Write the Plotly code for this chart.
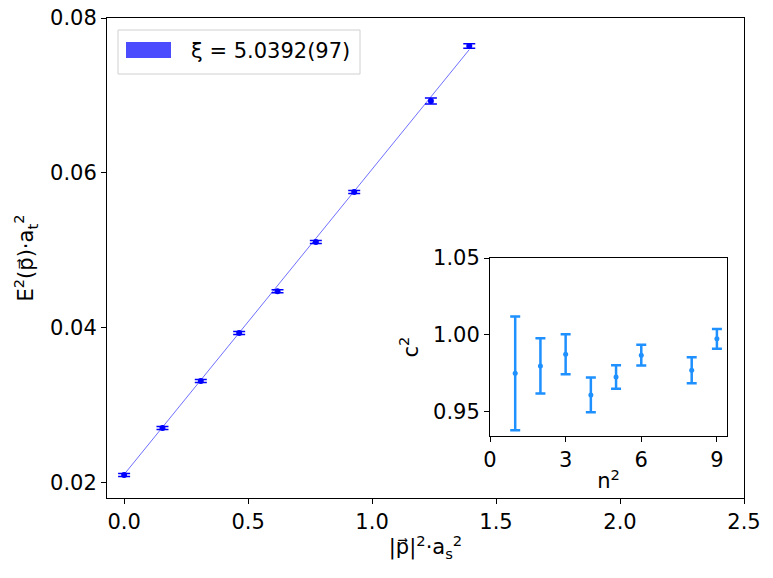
import plotly.graph_objects as go

# ---- main data ----
p2 = [0.0, 0.1547, 0.3093, 0.4640, 0.6187, 0.7733, 0.9280, 1.2373, 1.3920]
E2 = [0.02103, 0.02710, 0.03316, 0.03935, 0.04474, 0.05110, 0.05755, 0.06929, 0.07639]
E2_err = [0.0002, 0.0002, 0.0002, 0.0002, 0.0002, 0.0002, 0.0002, 0.0004, 0.0003]

# fit parameters
m2_fit = 0.02110
xi_fit = 5.0392
fit_label = "ξ = 5.0392(97)"

# ---- inset data ----
n2 = [1, 2, 3, 4, 5, 6, 8, 9]
c2 = [0.975, 0.9798, 0.9874, 0.9609, 0.9726, 0.9868, 0.9770, 0.9974]
c2_err = [0.037, 0.018, 0.013, 0.0113, 0.0077, 0.0068, 0.0085, 0.0064]

FONT = "DejaVu Sans"
fs = 21

fig = go.Figure()

# fit line
xb = [p2[0], p2[-1]]
yfit = [m2_fit + x / xi_fit ** 2 for x in xb]
fig.add_trace(go.Scatter(
    x=xb, y=yfit, mode="lines",
    line=dict(color="rgba(40,40,255,0.75)", width=0.9),
    showlegend=False, hoverinfo="skip", xaxis="x", yaxis="y"))

fig.add_trace(go.Scatter(
    x=p2, y=E2, mode="markers",
    marker=dict(color="#0000ff", size=6),
    error_y=dict(type="data", array=E2_err, color="#0000ff", thickness=1.5, width=6),
    showlegend=False, xaxis="x", yaxis="y"))

fig.add_trace(go.Scatter(
    x=n2, y=c2, mode="markers",
    marker=dict(color="#1e90ff", size=5),
    error_y=dict(type="data", array=c2_err, color="#1e90ff", thickness=2.5, width=5),
    showlegend=False, xaxis="x2", yaxis="y2"))

W, H = 773, 578
def fx(px):
    return px / W
def fy(py):
    return 1 - py / H

axis_common = dict(showline=True, linecolor="black", linewidth=1, mirror=True,
                   ticks="outside", ticklen=5, tickcolor="black", showgrid=False,
                   zeroline=False, automargin=False,
                   tickfont=dict(family=FONT, size=fs, color="black"))

# manual legend (box, patch, text)
shapes = [
    dict(type="rect", xref="paper", yref="paper",
         x0=fx(118), x1=fx(360), y0=fy(74), y1=fy(30),
         line=dict(color="#d0d0d0", width=1), fillcolor="rgba(255,255,255,0.8)", layer="above"),
    dict(type="rect", xref="paper", yref="paper",
         x0=fx(126), x1=fx(171), y0=fy(58), y1=fy(42),
         line=dict(width=0), fillcolor="rgba(0,0,255,0.7)", layer="above"),
]
annotations = [
    dict(text=fit_label, xref="paper", yref="paper", x=fx(189), y=fy(51),
         xanchor="left", yanchor="middle", showarrow=False,
         font=dict(family=FONT, size=fs, color="black")),
]

fig.update_layout(
    width=W, height=H,
    margin=dict(l=0, r=0, t=0, b=0),
    paper_bgcolor="white", plot_bgcolor="white",
    font=dict(family=FONT, size=fs, color="black"),
    showlegend=False,
    shapes=shapes, annotations=annotations,
    xaxis=dict(domain=[fx(107), fx(744)], range=[-0.069, 2.5],
               tickvals=[0, 0.5, 1.0, 1.5, 2.0, 2.5],
               ticktext=["0.0", "0.5", "1.0", "1.5", "2.0", "2.5"],
               title=dict(text="|p⃗|<sup>2</sup>·a<sub>s</sub><sup>2</sup>",
                          font=dict(family=FONT, size=fs), standoff=6),
               anchor="y", **axis_common),
    yaxis=dict(domain=[fy(498), fy(18)], range=[0.01806, 0.08],
               tickvals=[0.02, 0.04, 0.06, 0.08],
               ticktext=["0.02", "0.04", "0.06", "0.08"],
               title=dict(text="E<sup>2</sup>(p⃗)·a<sub>t</sub><sup>2</sup>",
                          font=dict(family=FONT, size=fs), standoff=10),
               anchor="x", **axis_common),
    xaxis2=dict(domain=[fx(490), fx(727)], range=[0, 9.4],
                tickvals=[0, 3, 6, 9],
                title=dict(text="n<sup>2</sup>", font=dict(family=FONT, size=fs), standoff=2),
                anchor="y2", **axis_common),
    yaxis2=dict(domain=[fy(436), fy(258)], range=[0.9342, 1.05],
                tickvals=[0.95, 1.00, 1.05],
                ticktext=["0.95", "1.00", "1.05"],
                title=dict(text="c<sup>2</sup>", font=dict(family=FONT, size=fs), standoff=8),
                anchor="x2", **axis_common),
)

fig.write_html("out.html", config={"displayModeBar": False},
               post_script="document.body.style.margin='0';document.body.style.overflow='hidden';")
